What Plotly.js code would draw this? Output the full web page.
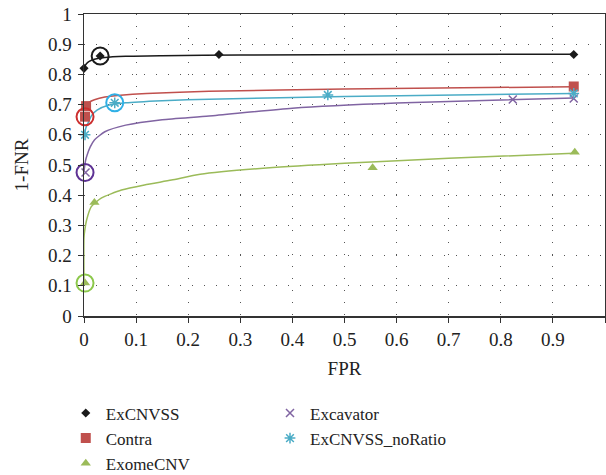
<!DOCTYPE html>
<html>
<head>
<meta charset="utf-8">
<script src="https://cdn.plot.ly/plotly-3.0.1.min.js"></script>
<style>html,body{margin:0;padding:0;background:#fff;}#chart{width:606px;height:475px;}</style>
</head>
<body>
<div id="chart"></div>
<script>
// Series names
const seriesNames = ["ExCNVSS", "Contra", "ExomeCNV", "Excavator", "ExCNVSS_noRatio"];

// Observed points (FPR, 1-FNR)
const excnvssX = [0, 0.031, 0.259, 0.94];
const excnvssY = [0.82, 0.861, 0.866, 0.866];
const contraX = [0.004, 0.002, 0.94];
const contraY = [0.695, 0.66, 0.76];
const exomeX = [0.002, 0.02, 0.554, 0.942];
const exomeY = [0.109, 0.376, 0.491, 0.542];
const excavatorX = [0.003, 0.823, 0.94];
const excavatorY = [0.475, 0.717, 0.72];
const noRatioX = [0.002, 0.059, 0.468, 0.94];
const noRatioY = [0.60, 0.706, 0.732, 0.737];

// Trend curves
const excnvssCurveX = [0, 0.005, 0.01, 0.02, 0.04, 0.08, 0.15, 0.3, 0.6, 0.94];
const excnvssCurveY = [0.822, 0.836, 0.843, 0.85, 0.856, 0.86, 0.862, 0.864, 0.866, 0.867];
const contraCurveX = [0, 0.005, 0.01, 0.02, 0.04, 0.07, 0.12, 0.24, 0.5, 0.94];
const contraCurveY = [0.685, 0.70, 0.708, 0.716, 0.725, 0.731, 0.737, 0.744, 0.752, 0.759];
const noRatioCurveX = [0, 0.004, 0.008, 0.015, 0.025, 0.045, 0.08, 0.15, 0.24, 0.5, 0.94];
const noRatioCurveY = [0.595, 0.625, 0.64, 0.665, 0.682, 0.697, 0.706, 0.713, 0.718, 0.727, 0.737];
const excavatorCurveX = [0, 0.003, 0.006, 0.012, 0.02, 0.04, 0.08, 0.15, 0.24, 0.4, 0.6, 0.94];
const excavatorCurveY = [0.48, 0.515, 0.533, 0.56, 0.583, 0.61, 0.632, 0.65, 0.662, 0.688, 0.705, 0.722];
const exomeCurveX = [0, 0, 0.002, 0.005, 0.014, 0.033, 0.072, 0.116, 0.168, 0.223, 0.35, 0.5, 0.7, 0.94];
const exomeCurveY = [0.11, 0.26, 0.29, 0.318, 0.362, 0.39, 0.417, 0.434, 0.45, 0.469, 0.49, 0.506, 0.522, 0.539];

// Highlighted (circled) points
const circledX = [0.031, 0.002, 0.059, 0.002, 0.002];
const circledY = [0.861, 0.66, 0.706, 0.475, 0.109];

// Axis tick values / labels
const tickVals = [0, 0.1, 0.2, 0.3, 0.4, 0.5, 0.6, 0.7, 0.8, 0.9, 1];
const tickText = ["0", "0.1", "0.2", "0.3", "0.4", "0.5", "0.6", "0.7", "0.8", "0.9", "1"];

const colors = ["#1a1a1a", "#c0504d", "#9bbb59", "#8064a2", "#4bacc6"];
const circleCol = ["#1a1a1a", "#cc2f2f", "#2fb0e6", "#5e3294", "#8cc84b"];

const FONT = "Liberation Serif, Times New Roman, serif";

function curve(x, y, c) {
  return {x: x, y: y, type: "scatter", mode: "lines", showlegend: false, hoverinfo: "skip",
    line: {color: c, width: 1.5, shape: "spline", smoothing: 0.6}, cliponaxis: false};
}
function pts(x, y, name, c, sym, size, legend, open) {
  const m = {color: c, symbol: sym, size: size};
  if (open) m.line = {color: c, width: 1.5};
  return {x: x, y: y, type: "scatter", mode: "markers", name: name, marker: m,
    legend: legend, cliponaxis: false};
}

const traces = [
  curve(exomeCurveX, exomeCurveY, colors[2]),
  curve(excavatorCurveX, excavatorCurveY, colors[3]),
  curve(noRatioCurveX, noRatioCurveY, colors[4]),
  curve(contraCurveX, contraCurveY, colors[1]),
  curve(excnvssCurveX, excnvssCurveY, colors[0]),
  pts(excnvssX, excnvssY, seriesNames[0], colors[0], "diamond", 7, "legend", false),
  pts(contraX, contraY, seriesNames[1], colors[1], "square", 10, "legend", false),
  pts(exomeX, exomeY, seriesNames[2], colors[2], "triangle-up", 9, "legend", false),
  pts(excavatorX, excavatorY, seriesNames[3], colors[3], "x-thin-open", 8, "legend2", true),
  pts(noRatioX, noRatioY, seriesNames[4], colors[4], "asterisk-open", 9, "legend2", true),
  {x: circledX, y: circledY, type: "scatter", mode: "markers", showlegend: false, hoverinfo: "skip",
    cliponaxis: false,
    marker: {symbol: "circle-open", size: 17, color: circleCol, line: {color: circleCol, width: 2}}}
];

const axisCommon = {
  range: [0, 1], tickvals: tickVals, ticktext: tickText,
  showline: true, linecolor: "#333", linewidth: 1.5,
  mirror: true, ticks: "outside", ticklen: 5, tickcolor: "#333", showgrid: true,
  gridcolor: "#555", gridwidth: 1, griddash: "1px,11px", zeroline: false,
  tickfont: {family: FONT, size: 19, color: "#222"}, fixedrange: true
};

const layout = {
  width: 606, height: 475,
  margin: {l: 84, r: 1, t: 14, b: 159, autoexpand: false},
  paper_bgcolor: "#fff", plot_bgcolor: "#fff",
  font: {family: FONT, color: "#222"},
  xaxis: Object.assign({}, axisCommon, {
    ticklabelstandoff: 1,
    title: {text: "FPR", font: {family: FONT, size: 19, color: "#222"}, standoff: 12}
  }),
  yaxis: Object.assign({}, axisCommon, {
    ticklabelstandoff: 2,
    title: {text: "1-FNR", font: {family: FONT, size: 19, color: "#222"}, standoff: 14}
  }),
  legend: {x: -0.035, y: -0.263, xanchor: "left", yanchor: "top", orientation: "v",
    font: {family: FONT, size: 17, color: "#222"}, bgcolor: "rgba(0,0,0,0)", tracegroupgap: 0},
  legend2: {x: 0.357, y: -0.263, xanchor: "left", yanchor: "top", orientation: "v",
    font: {family: FONT, size: 17, color: "#222"}, bgcolor: "rgba(0,0,0,0)", tracegroupgap: 0},
  showlegend: true
};

Plotly.newPlot("chart", traces, layout, {displayModeBar: false, staticPlot: true});
</script>
</body>
</html>
